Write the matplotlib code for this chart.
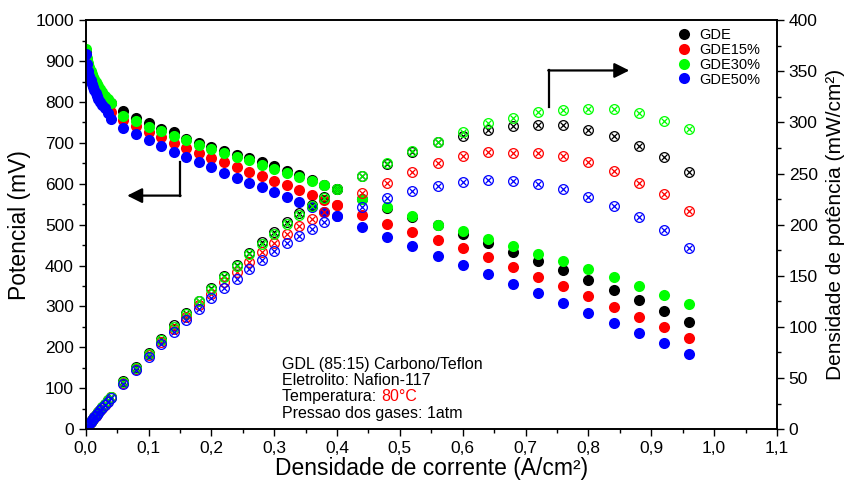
import matplotlib
matplotlib.use("Agg")
import matplotlib.pyplot as plt
from matplotlib.ticker import MultipleLocator, FuncFormatter

plt.rcParams['font.family'] = ['Liberation Sans', 'DejaVu Sans']

# Current density (A/cm2)
current = [0.000, 0.002, 0.004, 0.006, 0.008, 0.010, 0.012, 0.014, 0.016, 0.018,
           0.020, 0.023, 0.026, 0.030, 0.035, 0.040,
           0.06, 0.08, 0.10, 0.12, 0.14, 0.16, 0.18, 0.20, 0.22, 0.24,
           0.26, 0.28, 0.30, 0.32, 0.34, 0.36, 0.38, 0.40,
           0.44, 0.48, 0.52, 0.56, 0.60, 0.64, 0.68, 0.72, 0.76, 0.80,
           0.84, 0.88, 0.92, 0.96]

# Potential (mV)
v_gde = [922, 900, 888, 878, 870, 862, 855, 849, 843, 838, 833, 826, 820, 812, 805, 798,
         777, 761, 749, 734, 726, 710, 699, 690, 681, 671, 662, 654, 643, 632, 621, 610, 598, 587,
         563, 540, 518, 498, 478, 454, 432, 410, 389, 365, 341, 315, 290, 262]
v_gde15 = [918, 898, 884, 873, 864, 855, 847, 840, 833, 826, 815, 808, 800, 793, 785, 776,
           755, 740, 726, 714, 700, 687, 675, 663, 653, 640, 628, 618, 607, 596, 584, 572, 560, 548,
           524, 502, 481, 463, 443, 422, 396, 373, 350, 325, 299, 273, 250, 222]
v_gde30 = [930, 908, 895, 885, 876, 868, 861, 855, 849, 843, 838, 831, 824, 815, 806, 798,
           765, 753, 738, 730, 716, 706, 695, 686, 675, 665, 657, 646, 636, 626, 616, 606, 596, 586,
           563, 542, 520, 500, 484, 466, 447, 428, 410, 391, 373, 350, 327, 306]
v_gde50 = [918, 892, 876, 864, 854, 845, 837, 829, 822, 815, 808, 800, 793, 784, 772, 758,
           737, 721, 708, 692, 677, 665, 653, 640, 626, 613, 601, 591, 580, 568, 556, 544, 532, 520,
           494, 470, 447, 424, 401, 379, 356, 333, 308, 283, 259, 235, 211, 184]

# Power density (mW/cm2)
p_gde = [0, 1.8, 3.6, 5.3, 7.0, 8.6, 10.3, 11.9, 13.5, 15.1, 16.7, 19.0, 21.3, 24.4, 28.2, 31.9,
         46.6, 60.9, 74.9, 88.1, 101.6, 113.6, 125.8, 138.0, 149.8, 161.0, 172.1, 183.1, 192.9,
         202.2, 211.1, 219.6, 227.2, 234.8,
         247.7, 259.2, 271, 281, 287, 293, 296, 297, 297, 292.5, 287, 277, 266, 251]
p_gde15 = [0, 1.8, 3.5, 5.2, 6.9, 8.6, 10.2, 11.8, 13.3, 14.9, 16.3, 18.6, 20.8, 23.8, 27.5, 31.0,
           45.3, 59.2, 72.6, 85.7, 98.0, 109.9, 121.5, 132.6, 143.7, 153.6, 163.3, 173.0, 182.1,
           190.7, 198.6, 205.9, 212.8, 219.2,
           230.6, 241, 251, 260.5, 266.7, 271, 270.3, 270, 267.3, 261, 252, 241, 230.4, 213.4]
p_gde30 = [0, 1.8, 3.6, 5.3, 7.0, 8.7, 10.3, 12.0, 13.6, 15.2, 16.8, 19.1, 21.4, 24.5, 28.2, 31.9,
           45.9, 60.2, 73.8, 87.6, 100.2, 113.0, 125.1, 137.2, 148.5, 159.6, 170.8, 180.9, 190.8,
           200.3, 209.4, 218.2, 226.5, 234.4,
           247.7, 260, 272, 281, 291, 299, 304, 310, 312.5, 313.5, 313, 309.5, 301, 294]
p_gde50 = [0, 1.8, 3.5, 5.2, 6.8, 8.5, 10.0, 11.6, 13.2, 14.7, 16.2, 18.4, 20.6, 23.5, 27.0, 30.3,
           44.2, 57.7, 70.8, 83.0, 94.8, 106.4, 117.5, 128.0, 137.7, 147.1, 156.3, 165.5, 174.0,
           181.8, 189.0, 195.8, 202.2, 208.0,
           217.4, 225.6, 233, 238, 241.8, 243.8, 242.5, 240, 235, 227, 218, 207.5, 195, 177.5]

labels = ['GDE', 'GDE15%', 'GDE30%', 'GDE50%']
colors = ['#000000', '#ff0000', '#00ff00', '#0000ff']
potentials = [v_gde, v_gde15, v_gde30, v_gde50]
powers = [p_gde, p_gde15, p_gde30, p_gde50]

fig = plt.figure(figsize=(8.5, 4.8), dpi=100)
ax = fig.add_axes([0.1008, 0.106, 0.8133, 0.852])
ax2 = ax.twinx()

for v, p, c, lab in zip(potentials, powers, colors, labels):
    ax.plot(current, v, linestyle='none', marker='o', markersize=8,
            markerfacecolor=c, markeredgecolor=c, markeredgewidth=0, label=lab, zorder=3)
    ax2.plot(current, p, linestyle='none', marker='o', markersize=7,
             markerfacecolor='none', markeredgecolor=c, markeredgewidth=0.9)
    ax2.plot(current, p, linestyle='none', marker='x', markersize=5,
             markeredgecolor=c, markeredgewidth=0.9)

ax.set_xlim(0, 1.1)
ax.set_ylim(0, 1000)
ax2.set_ylim(0, 400)

ax.xaxis.set_major_locator(MultipleLocator(0.1))
ax.xaxis.set_minor_locator(MultipleLocator(0.05))
ax.yaxis.set_major_locator(MultipleLocator(100))
ax.yaxis.set_minor_locator(MultipleLocator(50))
ax2.yaxis.set_major_locator(MultipleLocator(50))
ax2.yaxis.set_minor_locator(MultipleLocator(25))
ax.xaxis.set_major_formatter(FuncFormatter(lambda x, pos: f"{x:.1f}".replace('.', ',')))

for a in (ax, ax2):
    a.tick_params(which='major', direction='out', length=5, width=1, labelsize=12.5)
    a.tick_params(which='minor', direction='out', length=3, width=1)
    for s in a.spines.values():
        s.set_linewidth(1.2)

ax.set_xlabel('Densidade de corrente (A/cm²)', fontsize=16.5, labelpad=1)
ax.set_ylabel('Potencial (mV)', fontsize=16.5, labelpad=3)
ax2.set_ylabel('Densidade de potência (mW/cm²)', fontsize=15, labelpad=6)

leg = ax.legend(loc='upper right', bbox_to_anchor=(0.99, 1.005), frameon=False,
                fontsize=10.5, handletextpad=0.35, labelspacing=0.05, borderpad=0.2,
                markerscale=1.0, handlelength=1.3)

# Arrows
ax.plot([0.15, 0.15], [653, 571], color='black', lw=1.6, zorder=4)
ax.annotate('', xy=(0.066, 571), xytext=(0.151, 571),
            arrowprops=dict(arrowstyle='-|>,head_length=0.9,head_width=0.45',
                            color='black', lw=1.6, shrinkA=0, shrinkB=0), zorder=4)
ax.plot([0.737, 0.737], [787, 877], color='black', lw=1.6, zorder=4)
ax.annotate('', xy=(0.865, 877), xytext=(0.736, 877),
            arrowprops=dict(arrowstyle='-|>,head_length=0.9,head_width=0.45',
                            color='black', lw=1.6, shrinkA=0, shrinkB=0), zorder=4)

# Annotation text
tx, ty, dy = 0.313, 148, 40
fs = 11.5
ax.text(tx, ty, 'GDL (85:15) Carbono/Teflon', fontsize=fs)
ax.text(tx, ty - dy, 'Eletrolito: Nafion-117', fontsize=fs)
t = ax.text(tx, ty - 2 * dy, 'Temperatura: ', fontsize=fs)
ax.annotate('80°C', xycoords=t, xy=(1, 0), va='bottom', fontsize=fs, color='#ff0000')
ax.text(tx, ty - 3 * dy, 'Pressao dos gases: 1atm', fontsize=fs)

fig.savefig('out.png', dpi=100)
